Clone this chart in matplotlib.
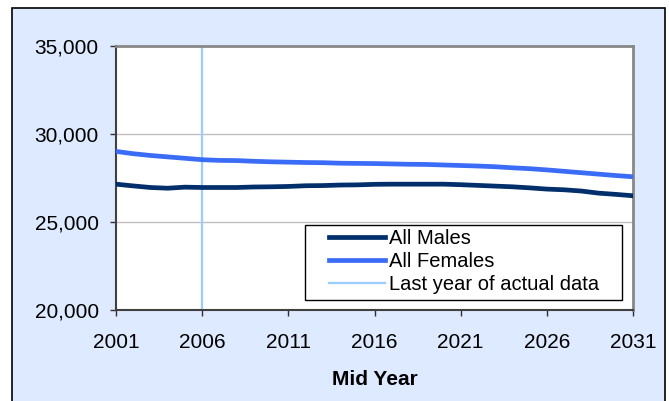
import matplotlib.pyplot as plt
from matplotlib.patches import Rectangle

plt.rcParams['font.family'] = ['Liberation Sans', 'DejaVu Sans']

years = list(range(2001, 2032))
males = [27150, 27050, 26960, 26920, 26980, 26960, 26960, 26960, 26990, 27000,
         27020, 27060, 27070, 27100, 27110, 27140, 27150, 27150, 27150, 27150,
         27120, 27080, 27040, 27000, 26940, 26870, 26830, 26760, 26640, 26570,
         26490]
females = [29010, 28880, 28780, 28700, 28620, 28540, 28500, 28490, 28450, 28420,
           28400, 28380, 28370, 28340, 28330, 28320, 28300, 28280, 28270, 28240,
           28210, 28180, 28140, 28080, 28030, 27960, 27880, 27800, 27720, 27640,
           27570]
last_actual = 2006
xticks = [2001, 2006, 2011, 2016, 2021, 2026, 2031]
yticks = [20000, 25000, 30000, 35000]

W, H = 669, 401
fig = plt.figure(figsize=(6.69, 4.01), dpi=100)
fig.patch.set_facecolor('white')
# outer chart area
fig.patches.append(Rectangle((12 / W, -0.05), (665 - 12) / W, 1.05 - 8 / H,
                             transform=fig.transFigure, facecolor='#ddeaff',
                             edgecolor='black', linewidth=1.2, zorder=-1))

ax = fig.add_axes([116 / W, 1 - 310 / H, (633 - 116) / W, (310 - 46) / H])
ax.set_facecolor('white')

vl = ax.axvline(last_actual, color='#99ccff', linewidth=1.6, label='Last year of actual data', zorder=2)
l1, = ax.plot(years, males, color='#002f6c', linewidth=3.4, label='All Males', zorder=3)
l2, = ax.plot(years, females, color='#3a6cf7', linewidth=3.4, label='All Females', zorder=3)

ax.set_xlim(2001, 2031)
ax.set_ylim(20000, 35000)
ax.set_xticks(xticks)
ax.set_yticks(yticks)
ax.set_yticklabels([f"{v:,}" for v in yticks])
ax.tick_params(axis='both', labelsize=15, direction='out', length=4.5, width=1, colors='#303030',
               labelcolor='black')
ax.tick_params(axis='x', pad=12)
ax.tick_params(axis='y', pad=8)

for y in [25000, 30000]:
    ax.axhline(y, color='#c0c0c0', linewidth=1, zorder=1)

ax.spines['top'].set_color('#888888')
ax.spines['right'].set_color('#888888')
ax.spines['top'].set_linewidth(2)
ax.spines['right'].set_linewidth(2)
ax.spines['left'].set_color('#404040')
ax.spines['bottom'].set_color('#404040')
ax.spines['left'].set_linewidth(1.5)
ax.spines['bottom'].set_linewidth(1.5)

ax.set_xlabel('Mid Year', fontsize=15, fontweight='bold', labelpad=13)

# legend box drawn by hand, entries placed inside
fig.patches.append(Rectangle((305 / W, 1 - 300 / H), (622 - 305) / W, 75 / H,
                             transform=fig.transFigure, facecolor='white',
                             edgecolor='black', linewidth=1, zorder=5))
leg = fig.legend(handles=[l1, l2, vl], loc='upper left',
                 bbox_to_anchor=(329 / W, 1 - 229 / H),
                 fontsize=14.5, frameon=False, handlelength=2.8,
                 handletextpad=0.2, labelspacing=0.2, borderpad=0, borderaxespad=0)
leg.set_zorder(6)

fig.savefig('out.png', dpi=100, facecolor=fig.get_facecolor())
